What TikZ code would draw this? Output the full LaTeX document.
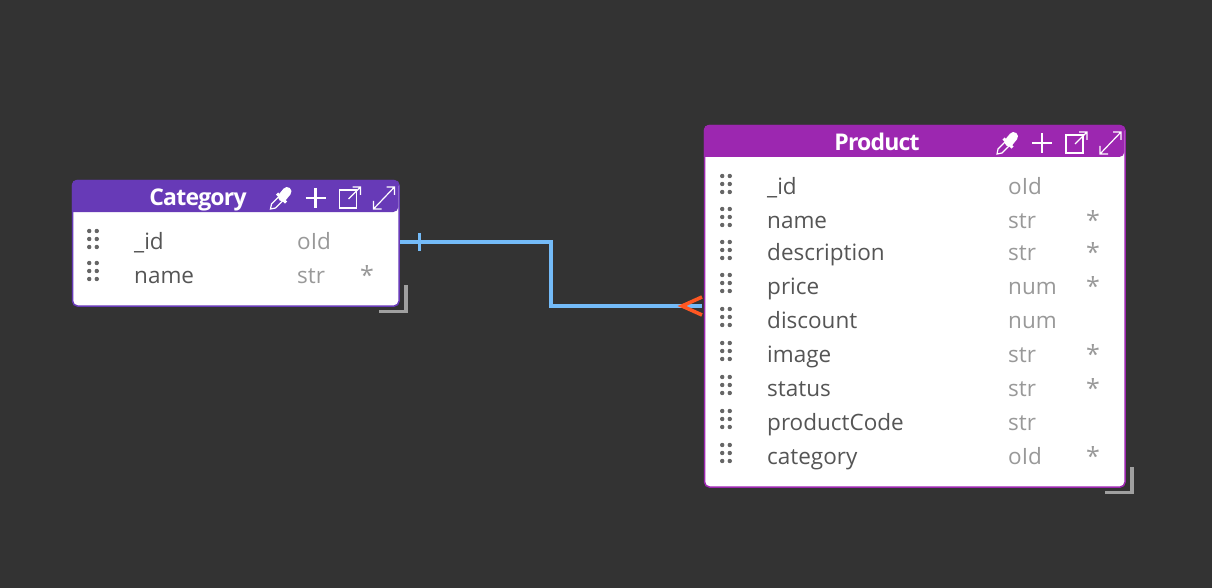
\documentclass[tikz,border=0pt]{standalone}
\usepackage{fontspec}
\setmainfont{Open Sans}
\usetikzlibrary{positioning}

\definecolor{canvas}{HTML}{333333}
\definecolor{catpurple}{HTML}{673AB7}
\definecolor{prodpurple}{HTML}{9C27B0}
\definecolor{relblue}{HTML}{74BBF8}
\definecolor{crowred}{HTML}{FF5722}
\definecolor{namegray}{HTML}{555555}
\definecolor{typegray}{HTML}{999999}
\definecolor{gripgray}{HTML}{666666}
\definecolor{handlegray}{HTML}{A0A0A0}

\begin{document}
\begin{tikzpicture}[
    x=1pt, y=-1pt,
    tablebox/.style={rectangle, draw, fill=white, line width=1.5pt, rounded corners=5pt, anchor=north west},
    title/.style={font=\fontsize{23}{26}\selectfont\bfseries\addfontfeatures{LetterSpace=-3.5}, text=white, inner sep=0pt, anchor=base},
    fieldname/.style={font=\fontsize{22.5}{26}\selectfont, text=namegray, anchor=base west, inner sep=0pt},
    fieldtype/.style={font=\fontsize{22.5}{26}\selectfont, text=typegray, anchor=base west, inner sep=0pt},
    required/.style={font=\fontsize{25}{26}\selectfont, text=typegray, anchor=base west, inner sep=0pt},
    relation/.style={draw=relblue, line width=3.3pt},
    tick/.style={draw=relblue, line width=3pt},
    crow/.style={draw=crowred, line width=3.6pt},
    handle/.style={draw=handlegray, line width=3.8pt},
    icon/.style={draw=white, line width=1.2pt},
    grip/.pic={
        \fill[gripgray] (-3.8,-8) circle (2.2) (3.8,-8) circle (2.2)
                        (-3.8,0) circle (2.2) (3.8,0) circle (2.2)
                        (-3.8,8) circle (2.2) (3.8,8) circle (2.2);
    },
    icons/.pic={
        % dropper
        \draw[icon] (-45,11) -- (-44,6) -- (-36,-2) -- (-32,2) -- (-40,10) -- cycle;
        \draw[white, line width=3pt] (-38.5,-4.5) -- (-29.5,4.5);
        \draw[white, line width=9pt, line cap=round] (-33,-1) -- (-28.5,-6.5);
        % plus
        \draw[white, line width=2.8pt] (-10,0) -- (10,0) (0,-10) -- (0,10);
        % popout
        \draw[icon] (41,-8) -- (24,-8) -- (24,10) -- (41,10) -- cycle;
        \draw[icon] (33,1) -- (45,-11) (37,-11) -- (45,-11) -- (45,-3);
        % expand
        \draw[icon] (58,11) -- (79,-11) (58,3) -- (58,11) -- (66,11) (71,-11) -- (79,-11) -- (79,-3);
    }
]

% Canvas
\fill[canvas] (0,0) rectangle (1212,588);
\useasboundingbox (0,0) rectangle (1212,588);

% Category Table
\node[tablebox, draw=catpurple, minimum width=326.5pt, minimum height=125.5pt] (category) at (71.8,179.8) {};
\fill[catpurple, rounded corners=5pt] (71.8,212) -- (71.8,179.8) -- (398.3,179.8) -- (398.3,212) [sharp corners] -- cycle;
\node[title] (cattitle) at (198,205) {Category};
\pic (caticons) at (315.5,198) {icons};

\pic (catgripa) at (93,239) {grip};
\node[fieldname] (catid) at (134,249) {\_id};
\node[fieldtype] (catidtype) at (297,249) {oId};

\pic (catgripb) at (93,271) {grip};
\node[fieldname] (catname) at (134,283) {name};
\node[fieldtype] (catnametype) at (297,283) {str};
\node[required] (catnamereq) at (360,284.5) {*};

% Category Resize Handle
\draw[handle] (379,311.5) -| (406,285);

% Product Table
\node[tablebox, draw=prodpurple, minimum width=420.5pt, minimum height=361.5pt] (product) at (703.8,124.8) {};
\fill[prodpurple, rounded corners=5pt] (703.8,157) -- (703.8,124.8) -- (1124.3,124.8) -- (1124.3,157) [sharp corners] -- cycle;
\node[title] (prodtitle) at (877,151) {Product};
\pic (prodicons) at (1042,143) {icons};

\pic (prodgripa) at (726,184) {grip};
\node[fieldname] (prodid) at (767,194) {\_id};
\node[fieldtype] (prodidtype) at (1008,194) {oId};

\pic (prodgripb) at (726,217) {grip};
\node[fieldname] (prodname) at (767,228) {name};
\node[fieldtype] (prodnametype) at (1008,228) {str};
\node[required] (prodnamereq) at (1086,229.5) {*};

\pic (prodgripc) at (726,250) {grip};
\node[fieldname] (proddesc) at (767,260) {description};
\node[fieldtype] (proddesctype) at (1008,260) {str};
\node[required] (proddescreq) at (1086,261.5) {*};

\pic (prodgripd) at (726,283) {grip};
\node[fieldname] (prodprice) at (767,294) {price};
\node[fieldtype] (prodpricetype) at (1008,294) {num};
\node[required] (prodpricereq) at (1086,295.5) {*};

\pic (prodgripe) at (726,317) {grip};
\node[fieldname] (proddiscount) at (767,328) {discount};
\node[fieldtype] (proddiscounttype) at (1008,328) {num};

\pic (prodgripf) at (726,351) {grip};
\node[fieldname] (prodimage) at (767,362) {image};
\node[fieldtype] (prodimagetype) at (1008,362) {str};
\node[required] (prodimagereq) at (1086,363.5) {*};

\pic (prodgripg) at (726,385) {grip};
\node[fieldname] (prodstatus) at (767,396) {status};
\node[fieldtype] (prodstatustype) at (1008,396) {str};
\node[required] (prodstatusreq) at (1086,397.5) {*};

\pic (prodgriph) at (726,419) {grip};
\node[fieldname] (prodcode) at (767,430) {productCode};
\node[fieldtype] (prodcodetype) at (1008,430) {str};

\pic (prodgripi) at (726,453) {grip};
\node[fieldname] (prodcat) at (767,464) {category};
\node[fieldtype] (prodcattype) at (1008,464) {oId};
\node[required] (prodcatreq) at (1086,465.5) {*};

% Product Resize Handle
\draw[handle] (1105,492.5) -| (1132,467);

% Relation
\coordinate (catport) at (400,242);
\coordinate (prodport) at (702,306);
\draw[relation] (catport) -- (551,242) |- (prodport);
\draw[tick] (419,233) -- (419,251);
\draw[crow] (prodport |- 0,297) -- (682,306) -- (prodport |- 0,315);

\end{tikzpicture}
\end{document}
